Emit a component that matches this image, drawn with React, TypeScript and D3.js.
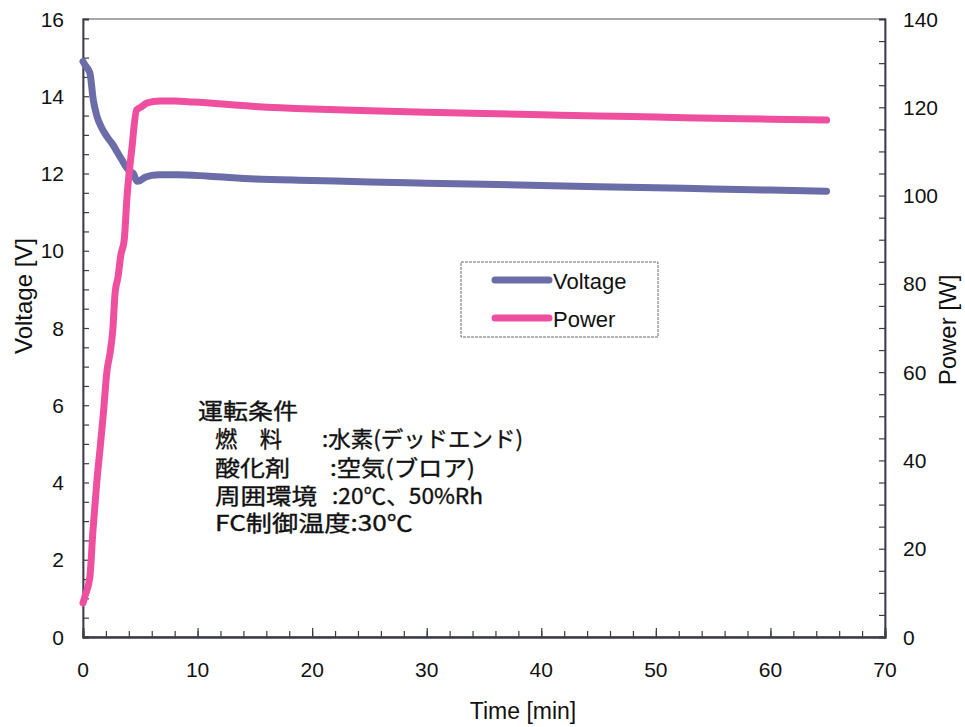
import { useEffect, useRef } from "react"
import * as d3 from "d3"

// Voltage curve [min, V]
const voltageTime = [0, 0.2, 0.6, 0.9, 1.2, 1.6, 2.1, 2.6, 3.0, 3.4, 3.7, 4.1, 4.4, 4.7, 5.0, 5.4, 6.0, 6.7, 8.2, 11, 15, 20, 25, 30, 35, 40, 45, 50, 55, 60, 64.9]
const voltage = [14.9, 14.8, 14.6, 13.9, 13.5, 13.2, 12.95, 12.75, 12.55, 12.35, 12.2, 12.05, 12.0, 11.8, 11.82, 11.9, 11.95, 11.97, 11.97, 11.93, 11.86, 11.82, 11.78, 11.75, 11.72, 11.69, 11.66, 11.63, 11.6, 11.57, 11.54]

// Power curve [min, W]
const powerTime = [0, 0.2, 0.6, 0.87, 1.22, 1.48, 1.75, 2.1, 2.36, 2.6, 2.8, 3.06, 3.3, 3.6, 3.84, 4.25, 4.68, 5.1, 5.6, 6.7, 8, 9.6, 15, 20, 25, 30, 35, 40, 45, 50, 55, 60, 64.9]
const power = [7.7, 9.5, 13.6, 24.2, 35.6, 42.4, 49.8, 60.4, 64.3, 69.5, 77.9, 81.6, 86.5, 90, 99.7, 110.3, 119.4, 120.1, 121, 121.4, 121.4, 121.2, 120.2, 119.6, 119.2, 118.9, 118.6, 118.3, 118.0, 117.8, 117.5, 117.3, 117.1]

const xTicks = [0, 10, 20, 30, 40, 50, 60, 70]
const voltTicks = [0, 2, 4, 6, 8, 10, 12, 14, 16]
const powerTicks = [0, 20, 40, 60, 80, 100, 120, 140]

const seriesNames = ["Voltage", "Power"]
const seriesColors = ["#6a6da8", "#ef4f9f"]

const conditionTitle = "運転条件"
const conditionLabels = ["燃\u3000料", "酸化剤", "周囲環境"]
const conditionValues = [":水素(デッドエンド)", ":空気(ブロア)", ":20℃、50%Rh"]
const conditionLast = "FC制御温度:30℃"

const W = 965
const H = 727
const LATIN = "'Liberation Sans', Arial, sans-serif"
const CJK = "'Noto Sans CJK JP', 'Liberation Sans', sans-serif"

export default function App() {
  const svgRef = useRef<SVGSVGElement>(null)

  useEffect(() => {
    if (!svgRef.current) return
    const svg = d3.select(svgRef.current)
    svg.selectAll("*").remove()

    const left = 83
    const right = 885
    const top = 19
    const bottom = 637

    const x = d3.scaleLinear().domain([0, 70]).range([left, right])
    const yV = d3.scaleLinear().domain([0, 16]).range([bottom, top])
    const yP = d3.scaleLinear().domain([0, 140]).range([bottom, top])

    svg.append("rect").attr("width", W).attr("height", H).attr("fill", "#fff")

    // frame
    svg.append("rect")
      .attr("x", left)
      .attr("y", top)
      .attr("width", right - left)
      .attr("height", bottom - top)
      .attr("fill", "none")
      .attr("stroke", "#8a8a94")
      .attr("stroke-width", 1.5)

    const axisColor = "#3c3c48"

    // left axis, ticks inward every 0.5 V
    svg.append("g")
      .attr("transform", `translate(${left},0)`)
      .call(d3.axisRight(yV).tickValues(d3.range(0, 16.01, 0.5)).tickSize(6).tickFormat(() => ""))
    // right axis, every 5 W
    svg.append("g")
      .attr("transform", `translate(${right},0)`)
      .call(d3.axisLeft(yP).tickValues(d3.range(0, 140.01, 5)).tickSize(6).tickFormat(() => ""))
    // bottom axis, minor every 2 min, major every 10
    svg.append("g")
      .attr("transform", `translate(0,${bottom})`)
      .call(d3.axisTop(x).tickValues(d3.range(0, 70.01, 2)).tickSize(6).tickFormat(() => ""))
    svg.append("g")
      .attr("transform", `translate(0,${bottom})`)
      .call(d3.axisTop(x).tickValues(xTicks).tickSize(9).tickFormat(() => ""))

    svg.selectAll(".domain").attr("stroke", axisColor).attr("stroke-width", 1.8)
    svg.selectAll(".tick line").attr("stroke", axisColor).attr("stroke-width", 1.2)

    // tick labels
    svg.append("g")
      .selectAll("text")
      .data(voltTicks)
      .join("text")
      .attr("x", 64)
      .attr("y", (d) => yV(d))
      .attr("dy", "0.36em")
      .attr("text-anchor", "end")
      .style("font-family", LATIN)
      .style("font-size", "21px")
      .attr("fill", "#111")
      .text((d) => d)

    svg.append("g")
      .selectAll("text")
      .data(powerTicks)
      .join("text")
      .attr("x", 903)
      .attr("y", (d) => yP(d))
      .attr("dy", "0.36em")
      .attr("text-anchor", "start")
      .style("font-family", LATIN)
      .style("font-size", "21px")
      .attr("fill", "#111")
      .text((d) => d)

    svg.append("g")
      .selectAll("text")
      .data(xTicks)
      .join("text")
      .attr("x", (d) => x(d))
      .attr("y", 677)
      .attr("text-anchor", "middle")
      .style("font-family", LATIN)
      .style("font-size", "21px")
      .attr("fill", "#111")
      .text((d) => d)

    // axis titles
    svg.append("text")
      .attr("transform", `translate(32,296) rotate(-90)`)
      .attr("text-anchor", "middle")
      .style("font-family", LATIN)
      .style("font-size", "24px")
      .attr("fill", "#111")
      .text("Voltage [V]")

    svg.append("text")
      .attr("transform", `translate(956,330) rotate(-90)`)
      .attr("text-anchor", "middle")
      .style("font-family", LATIN)
      .style("font-size", "24px")
      .attr("fill", "#111")
      .text("Power [W]")

    svg.append("text")
      .attr("x", 523)
      .attr("y", 719)
      .attr("text-anchor", "middle")
      .style("font-family", LATIN)
      .style("font-size", "23px")
      .attr("fill", "#111")
      .text("Time [min]")

    // series
    const vLine = d3.line<number>().x((_, i) => x(voltageTime[i])).y((d) => yV(d)).curve(d3.curveMonotoneX)
    const pLine = d3.line<number>().x((_, i) => x(powerTime[i])).y((d) => yP(d)).curve(d3.curveMonotoneX)

    svg.append("path")
      .attr("d", vLine(voltage) ?? "")
      .attr("fill", "none")
      .attr("stroke", seriesColors[0])
      .attr("stroke-width", 7)
      .attr("stroke-linecap", "round")
      .attr("stroke-linejoin", "round")

    svg.append("path")
      .attr("d", pLine(power) ?? "")
      .attr("fill", "none")
      .attr("stroke", seriesColors[1])
      .attr("stroke-width", 7)
      .attr("stroke-linecap", "round")
      .attr("stroke-linejoin", "round")

    // legend
    const lg = svg.append("g")
    lg.append("rect")
      .attr("x", 461)
      .attr("y", 262)
      .attr("width", 197)
      .attr("height", 75)
      .attr("fill", "#fff")
      .attr("stroke", "#6a6a70")
      .attr("stroke-width", 1)
      .attr("stroke-dasharray", "3,1")
    seriesNames.forEach((name, i) => {
      const cy = 280 + i * 38
      lg.append("line")
        .attr("x1", 495)
        .attr("x2", 549)
        .attr("y1", cy)
        .attr("y2", cy)
        .attr("stroke", seriesColors[i])
        .attr("stroke-width", 7)
        .attr("stroke-linecap", "round")
      lg.append("text")
        .attr("x", 553)
        .attr("y", cy + 1)
        .attr("dy", "0.36em")
        .style("font-family", LATIN)
        .style("font-size", "22px")
        .attr("fill", "#111")
        .text(name)
    })

    // operating conditions
    const cg = svg.append("g")
      .style("font-family", CJK)
      .style("font-size", "22px")
      .attr("fill", "#111")
      .attr("stroke", "#111")
      .attr("stroke-width", 0.35)
    cg.append("text").attr("x", 198).attr("y", 419).attr("textLength", 100).attr("lengthAdjust", "spacingAndGlyphs").text(conditionTitle)
    const labelWidths = [67, 75, 102]
    const valueX = [322, 330, 332]
    const valueWidths = [201, 145, 151]
    conditionLabels.forEach((lab, i) => {
      const by = 447 + i * 28.5
      cg.append("text")
        .attr("x", 215)
        .attr("y", by)
        .attr("textLength", labelWidths[i])
        .attr("lengthAdjust", "spacingAndGlyphs")
        .text(lab)
      cg.append("text")
        .attr("x", valueX[i])
        .attr("y", by)
        .attr("textLength", valueWidths[i])
        .attr("lengthAdjust", "spacingAndGlyphs")
        .text(conditionValues[i])
    })
    cg.append("text")
      .attr("x", 215)
      .attr("y", 531)
      .attr("textLength", 198)
      .attr("lengthAdjust", "spacingAndGlyphs")
      .text(conditionLast)
  }, [])

  return (
    <svg
      ref={svgRef}
      width={W}
      height={H}
      style={{ position: "absolute", left: 0, top: 0, display: "block" }}
    />
  )
}
